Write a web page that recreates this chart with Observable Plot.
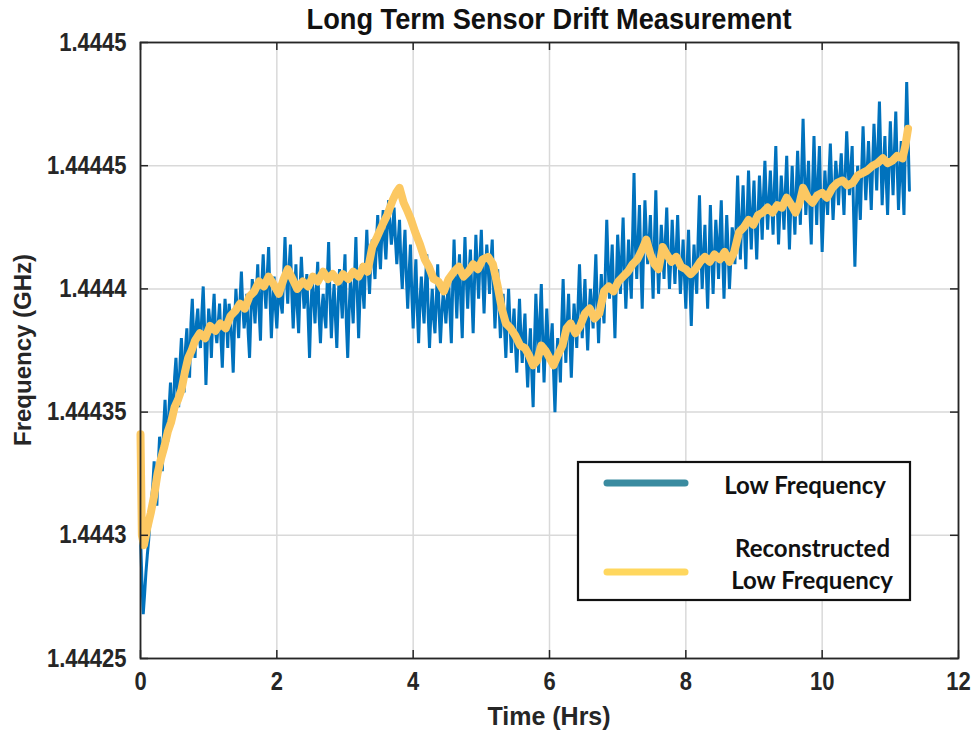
<!DOCTYPE html>
<html><head><meta charset="utf-8">
<script src="https://cdn.jsdelivr.net/npm/d3@7"></script>
<script src="https://cdn.jsdelivr.net/npm/@observablehq/plot@0.6"></script>
<style>body{margin:0;background:#fff}</style>
</head><body><div id="chart"></div>
<script>
const chartTitle = "Long Term Sensor Drift Measurement";
const xLabel = "Time (Hrs)";
const yLabel = "Frequency (GHz)";
const seriesNames = ["Low Frequency", ["Reconstructed", "Low Frequency"]];
const xTicks = [0, 2, 4, 6, 8, 10, 12];
const yTicks = [1.44425, 1.4443, 1.44435, 1.4444, 1.44445, 1.4445];
const yTickLabels = ["1.44425", "1.4443", "1.44435", "1.4444", "1.44445", "1.4445"];

// Measured low-frequency signal (GHz), sampled every 0.02 h
const sampleStepHrs = 0.02;
const lowFreqGHz = [
1.444300,1.444282,1.444268,1.444276,1.444285,1.444292,1.444298,1.444306,1.444314,1.444320,1.444330,1.444318,1.444312,1.444328,1.444340,1.444334,1.444326,1.444344,1.444355,1.444342,
1.444338,1.444352,1.444362,1.444350,1.444346,1.444364,1.444372,1.444360,1.444352,1.444370,1.444380,1.444368,1.444358,1.444376,1.444384,1.444370,1.444364,1.444386,1.444396,1.444380,
1.444372,1.444386,1.444392,1.444381,1.444376,1.444390,1.444401,1.444384,1.444361,1.444378,1.444392,1.444386,1.444372,1.444389,1.444398,1.444383,1.444378,1.444386,1.444394,1.444380,
1.444368,1.444384,1.444396,1.444388,1.444376,1.444394,1.444388,1.444379,1.444366,1.444386,1.444400,1.444390,1.444380,1.444395,1.444407,1.444393,1.444384,1.444390,1.444398,1.444382,
1.444372,1.444390,1.444404,1.444395,1.444386,1.444398,1.444410,1.444391,1.444379,1.444402,1.444414,1.444400,1.444392,1.444406,1.444417,1.444396,1.444380,1.444394,1.444405,1.444392,
1.444384,1.444396,1.444402,1.444394,1.444390,1.444406,1.444421,1.444404,1.444394,1.444409,1.444418,1.444398,1.444384,1.444397,1.444410,1.444392,1.444382,1.444400,1.444413,1.444401,
1.444392,1.444398,1.444406,1.444388,1.444372,1.444392,1.444404,1.444396,1.444386,1.444400,1.444411,1.444389,1.444378,1.444392,1.444398,1.444389,1.444384,1.444404,1.444419,1.444396,
1.444380,1.444393,1.444402,1.444388,1.444376,1.444395,1.444408,1.444398,1.444388,1.444402,1.444414,1.444386,1.444372,1.444391,1.444404,1.444396,1.444386,1.444405,1.444421,1.444398,
1.444380,1.444397,1.444410,1.444400,1.444392,1.444410,1.444424,1.444408,1.444398,1.444412,1.444420,1.444411,1.444404,1.444418,1.444430,1.444416,1.444408,1.444422,1.444432,1.444420,
1.444412,1.444425,1.444436,1.444426,1.444418,1.444424,1.444433,1.444420,1.444410,1.444419,1.444428,1.444410,1.444400,1.444414,1.444424,1.444405,1.444392,1.444406,1.444418,1.444398,
1.444384,1.444400,1.444412,1.444392,1.444378,1.444395,1.444405,1.444394,1.444386,1.444402,1.444414,1.444390,1.444376,1.444390,1.444400,1.444388,1.444382,1.444396,1.444410,1.444391,
1.444378,1.444390,1.444398,1.444394,1.444386,1.444396,1.444404,1.444390,1.444378,1.444401,1.444420,1.444402,1.444388,1.444404,1.444414,1.444394,1.444380,1.444404,1.444421,1.444404,
1.444392,1.444406,1.444416,1.444398,1.444382,1.444403,1.444422,1.444408,1.444396,1.444412,1.444424,1.444405,1.444390,1.444406,1.444418,1.444409,1.444398,1.444411,1.444420,1.444400,
1.444384,1.444397,1.444408,1.444393,1.444380,1.444390,1.444398,1.444384,1.444372,1.444388,1.444400,1.444386,1.444374,1.444383,1.444392,1.444378,1.444366,1.444382,1.444396,1.444381,
1.444370,1.444381,1.444390,1.444372,1.444360,1.444374,1.444384,1.444366,1.444352,1.444378,1.444398,1.444384,1.444366,1.444388,1.444402,1.444380,1.444362,1.444378,1.444392,1.444379,
1.444370,1.444378,1.444386,1.444366,1.444350,1.444368,1.444380,1.444374,1.444362,1.444386,1.444404,1.444385,1.444370,1.444386,1.444398,1.444379,1.444364,1.444380,1.444394,1.444386,
1.444376,1.444394,1.444410,1.444393,1.444380,1.444392,1.444404,1.444388,1.444375,1.444390,1.444400,1.444392,1.444384,1.444400,1.444414,1.444394,1.444378,1.444394,1.444406,1.444394,
1.444386,1.444408,1.444428,1.444410,1.444396,1.444406,1.444418,1.444398,1.444380,1.444402,1.444422,1.444410,1.444398,1.444414,1.444429,1.444408,1.444392,1.444406,1.444420,1.444406,
1.444396,1.444422,1.444447,1.444418,1.444404,1.444420,1.444434,1.444410,1.444392,1.444416,1.444436,1.444422,1.444410,1.444418,1.444430,1.444412,1.444396,1.444420,1.444440,1.444416,
1.444398,1.444412,1.444426,1.444416,1.444404,1.444420,1.444433,1.444414,1.444400,1.444412,1.444428,1.444414,1.444402,1.444416,1.444430,1.444412,1.444398,1.444408,1.444420,1.444405,
1.444392,1.444410,1.444424,1.444402,1.444385,1.444404,1.444418,1.444406,1.444398,1.444420,1.444438,1.444416,1.444400,1.444414,1.444426,1.444408,1.444392,1.444412,1.444434,1.444414,
1.444398,1.444414,1.444428,1.444418,1.444404,1.444422,1.444436,1.444414,1.444396,1.444414,1.444430,1.444416,1.444400,1.444412,1.444425,1.444420,1.444410,1.444428,1.444446,1.444427,
1.444412,1.444428,1.444442,1.444424,1.444408,1.444430,1.444448,1.444430,1.444416,1.444432,1.444444,1.444426,1.444412,1.444430,1.444446,1.444434,1.444420,1.444438,1.444452,1.444436,
1.444424,1.444436,1.444448,1.444434,1.444422,1.444442,1.444458,1.444436,1.444418,1.444432,1.444446,1.444436,1.444424,1.444440,1.444454,1.444434,1.444416,1.444434,1.444450,1.444434,
1.444422,1.444440,1.444456,1.444440,1.444426,1.444448,1.444469,1.444448,1.444430,1.444440,1.444452,1.444432,1.444418,1.444442,1.444462,1.444442,1.444426,1.444444,1.444458,1.444434,
1.444415,1.444432,1.444448,1.444438,1.444430,1.444446,1.444459,1.444442,1.444428,1.444440,1.444452,1.444444,1.444434,1.444446,1.444455,1.444442,1.444430,1.444448,1.444464,1.444450,
1.444438,1.444448,1.444458,1.444432,1.444409,1.444430,1.444450,1.444440,1.444428,1.444448,1.444466,1.444450,1.444436,1.444448,1.444460,1.444446,1.444432,1.444450,1.444467,1.444454,
1.444440,1.444458,1.444476,1.444454,1.444434,1.444448,1.444462,1.444444,1.444430,1.444450,1.444468,1.444452,1.444438,1.444456,1.444472,1.444450,1.444432,1.444446,1.444460,1.444444,
1.444430,1.444458,1.444484,1.444462,1.444440
];

// Reconstructed low-frequency signal
const reconTimeHrs = [
0,0.02,0.05,0.1,0.15,0.2,0.25,0.3,0.35,0.4,0.45,0.5,0.55,0.6,0.65,0.7,0.75,0.8,0.87,0.95,
1.02,1.1,1.17,1.25,1.32,1.39,1.46,1.53,1.6,1.67,1.74,1.81,1.88,1.95,2.03,2.1,2.16,2.23,2.3,2.38,
2.46,2.53,2.6,2.68,2.75,2.82,2.9,2.97,3.05,3.12,3.2,3.27,3.33,3.4,3.47,3.55,3.62,3.7,3.75,3.8,
3.86,3.91,3.97,4.03,4.1,4.17,4.23,4.3,4.37,4.45,4.52,4.6,4.67,4.74,4.81,4.88,4.95,5.02,5.1,5.17,
5.24,5.3,5.36,5.43,5.5,5.57,5.64,5.7,5.76,5.82,5.88,5.94,6.0,6.06,6.12,6.19,6.25,6.31,6.38,6.45,
6.52,6.59,6.66,6.73,6.8,6.87,6.94,7.01,7.08,7.15,7.22,7.29,7.36,7.42,7.48,7.54,7.6,7.66,7.72,7.79,
7.86,7.93,8.0,8.07,8.14,8.21,8.28,8.35,8.42,8.5,8.57,8.64,8.71,8.78,8.85,8.92,8.99,9.06,9.13,9.2,
9.27,9.34,9.41,9.48,9.55,9.61,9.67,9.72,9.79,9.86,9.93,10.0,10.07,10.15,10.22,10.3,10.37,10.45,10.52,10.59,
10.66,10.74,10.81,10.89,10.96,11.03,11.1,11.18,11.22,11.26];
const reconGHz = [
1.444341,1.444300,1.444296,1.444303,1.444309,1.444316,1.444325,1.444331,1.444336,1.444342,1.444346,1.444352,1.444355,1.444359,1.444366,1.444372,1.444375,1.444379,1.444382,1.444380,
1.444385,1.444383,1.444386,1.444384,1.444389,1.444391,1.444394,1.444392,1.444397,1.444399,1.444403,1.444401,1.444405,1.444402,1.444398,1.444404,1.444408,1.444404,1.444400,1.444403,
1.444401,1.444405,1.444403,1.444407,1.444404,1.444406,1.444403,1.444406,1.444404,1.444407,1.444405,1.444409,1.444407,1.444417,1.444421,1.444426,1.444430,1.444436,1.444439,1.444441,
1.444435,1.444432,1.444428,1.444423,1.444418,1.444412,1.444409,1.444404,1.444403,1.444399,1.444404,1.444407,1.444409,1.444405,1.444407,1.444410,1.444408,1.444412,1.444413,1.444410,
1.444401,1.444392,1.444386,1.444384,1.444381,1.444377,1.444376,1.444373,1.444369,1.444371,1.444377,1.444375,1.444372,1.444369,1.444373,1.444377,1.444384,1.444386,1.444382,1.444385,
1.444390,1.444392,1.444388,1.444390,1.444399,1.444401,1.444399,1.444403,1.444405,1.444407,1.444410,1.444412,1.444416,1.444420,1.444414,1.444410,1.444408,1.444417,1.444414,1.444411,
1.444413,1.444409,1.444408,1.444406,1.444408,1.444411,1.444413,1.444411,1.444414,1.444412,1.444415,1.444411,1.444415,1.444423,1.444425,1.444428,1.444426,1.444430,1.444431,1.444433,
1.444431,1.444434,1.444433,1.444437,1.444434,1.444431,1.444435,1.444441,1.444437,1.444435,1.444438,1.444439,1.444437,1.444441,1.444443,1.444444,1.444442,1.444443,1.444446,1.444447,
1.444448,1.444450,1.444451,1.444453,1.444451,1.444452,1.444454,1.444453,1.444458,1.444465];

const blueData = lowFreqGHz.map((v, i) => ({t: i * sampleStepHrs, v}));
const yellowData = reconTimeHrs.map((t, i) => ({t, v: reconGHz[i]}));

const W = 976, H = 732, ML = 140, MR = 18, MT = 42, MB = 74;
const PW = W - ML - MR, PH = H - MT - MB, TICK = 8;
const font = "'Liberation Sans', Arial, sans-serif";
const ink = "#262626";

const plot = Plot.plot({
  width: W, height: H,
  marginLeft: ML, marginRight: MR, marginTop: MT, marginBottom: MB,
  style: {fontFamily: font, fontWeight: "bold", fontSize: "25px", color: ink, background: "#fff"},
  x: {domain: [0, 12], ticks: xTicks, label: null},
  y: {domain: [1.44425, 1.4445], ticks: yTicks, label: null},
  marks: [
    Plot.gridX(xTicks, {stroke: "#d9d9d9", strokeOpacity: 1, strokeWidth: 1.5}),
    Plot.gridY(yTicks, {stroke: "#d9d9d9", strokeOpacity: 1, strokeWidth: 1.5}),
    Plot.line(blueData, {x: "t", y: "v", stroke: "#0072BD", strokeWidth: 3, strokeLinejoin: "miter"}),
    Plot.line(yellowData, {x: "t", y: "v", stroke: "#FCC862", strokeWidth: 8, strokeLinejoin: "round"}),
    Plot.ruleY(yTicks, {stroke: ink, strokeWidth: 1.5, insetRight: PW - TICK}),
    Plot.ruleY(yTicks, {stroke: ink, strokeWidth: 1.5, insetLeft: PW - TICK}),
    Plot.ruleX(xTicks, {stroke: ink, strokeWidth: 1.5, insetBottom: PH - TICK}),
    Plot.ruleX(xTicks, {stroke: ink, strokeWidth: 1.5, insetTop: PH - TICK}),
    Plot.axisX(xTicks, {tickSize: 0, tickPadding: 14, fontSize: 25, fontWeight: "bold", fill: ink}),
    Plot.axisY(yTicks, {tickSize: 0, tickPadding: 14, fontSize: 25, fontWeight: "bold", fill: ink,
      tickFormat: d => yTickLabels[yTicks.indexOf(d)]}),
    Plot.frame({stroke: ink, strokeWidth: 1.8})
  ]
});
document.getElementById("chart").appendChild(plot);

const svg = d3.select(plot);
// condensed look of tick labels
svg.selectAll('g[aria-label$="tick label"] text').each(function () {
  const L = this.getComputedTextLength();
  this.setAttribute("textLength", (L * 0.88).toFixed(1));
  this.setAttribute("lengthAdjust", "spacingAndGlyphs");
});

const title = svg.append("text").attr("x", ML + PW / 2).attr("y", 19).attr("text-anchor", "middle")
  .attr("dominant-baseline", "central").attr("font-size", 29).attr("font-weight", "bold")
  .attr("font-family", font).attr("fill", "#111").text(chartTitle);
title.attr("textLength", 485).attr("lengthAdjust", "spacingAndGlyphs");
svg.append("text").attr("x", ML + PW / 2).attr("y", 716).attr("text-anchor", "middle")
  .attr("dominant-baseline", "central").attr("font-size", 25).attr("font-weight", "bold")
  .attr("font-family", font).attr("fill", ink).text(xLabel);
svg.append("text").attr("transform", `translate(22,${MT + PH / 2}) rotate(-90)`).attr("text-anchor", "middle")
  .attr("dominant-baseline", "central").attr("font-size", 24).attr("font-weight", "bold")
  .attr("font-family", font).attr("fill", ink).text(yLabel);

const lg = svg.append("g").attr("font-family", "Lato, 'Open Sans', sans-serif").attr("font-weight", "bold").attr("font-size", 24).attr("fill", "#111");
lg.append("rect").attr("x", 578).attr("y", 462).attr("width", 332).attr("height", 138)
  .attr("fill", "#fff").attr("stroke", "#111").attr("stroke-width", 2.2);
lg.append("line").attr("x1", 607).attr("x2", 685).attr("y1", 483).attr("y2", 483)
  .attr("stroke", "#3A8BA0").attr("stroke-width", 7).attr("stroke-linecap", "round");
lg.append("line").attr("x1", 607).attr("x2", 685).attr("y1", 572).attr("y2", 572)
  .attr("stroke", "#FFD75E").attr("stroke-width", 7).attr("stroke-linecap", "round");
lg.append("text").attr("x", 886).attr("y", 484).attr("text-anchor", "end").attr("dominant-baseline", "central").text(seriesNames[0]);
lg.append("text").attr("x", 890).attr("y", 547).attr("text-anchor", "end").attr("dominant-baseline", "central").text(seriesNames[1][0]);
lg.append("text").attr("x", 893).attr("y", 579).attr("text-anchor", "end").attr("dominant-baseline", "central").text(seriesNames[1][1]);
</script>
</body></html>
